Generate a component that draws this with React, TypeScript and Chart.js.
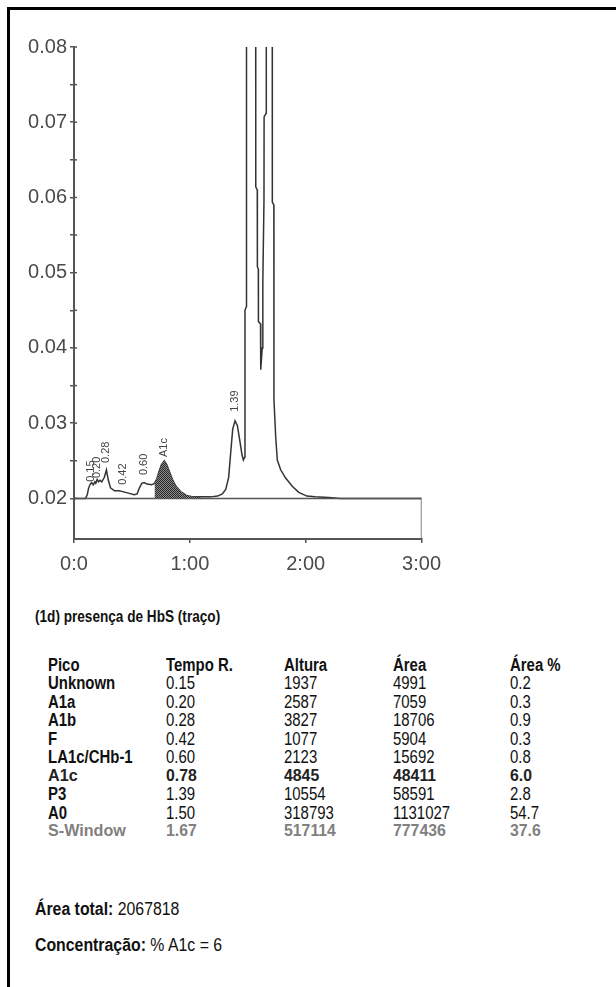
import React, { useEffect, useRef } from "react";
import { Chart, registerables } from "chart.js";

Chart.register(...registerables);

// ---- chromatogram trace (time in minutes, absorbance) ----
const traceX = [
  0.0, 0.1, 0.115, 0.125, 0.137, 0.152, 0.166, 0.18, 0.188, 0.2, 0.212, 0.225, 0.24, 0.262, 0.28,
  0.295, 0.315, 0.35, 0.39, 0.42, 0.47, 0.52, 0.545, 0.565, 0.585, 0.605, 0.63, 0.67, 0.695,
  0.715, 0.735, 0.755, 0.78, 0.8, 0.825, 0.85, 0.88, 0.92, 0.97, 1.03, 1.1, 1.18, 1.24, 1.28,
  1.31, 1.335, 1.355, 1.37, 1.39, 1.41, 1.43, 1.45, 1.462, 1.474, 1.476, 1.488, 1.489, 1.53,
  1.568, 1.569, 1.582, 1.583, 1.591, 1.592, 1.61, 1.612, 1.625, 1.63, 1.64, 1.641, 1.658, 1.66,
  1.69, 1.711, 1.712, 1.725, 1.726, 1.741, 1.755, 1.784, 1.827, 1.884, 1.94, 2.01, 2.08, 2.2,
  2.3, 3.0,
];
const traceY = [
  0.02, 0.02, 0.0205, 0.0213, 0.0218, 0.0221, 0.0218, 0.0222, 0.022, 0.0225, 0.0222, 0.0224, 0.0222,
  0.0228, 0.0238, 0.0225, 0.0214, 0.021, 0.021, 0.0209, 0.0207, 0.0205, 0.0206, 0.0214, 0.022,
  0.0221, 0.0219, 0.0218, 0.022, 0.0226, 0.0236, 0.0245, 0.025, 0.0245, 0.0235, 0.0225, 0.0216,
  0.0209, 0.0204, 0.0202, 0.0202, 0.0202, 0.0203, 0.0206, 0.0212, 0.0228, 0.0265, 0.0292, 0.0303,
  0.0297, 0.0278, 0.0258, 0.0251, 0.0255, 0.045, 0.0455, 0.1, 0.13, 0.1, 0.0614, 0.061, 0.0508,
  0.0505, 0.0435, 0.0432, 0.0371, 0.04, 0.0488, 0.0597, 0.0707, 0.0712, 0.1, 0.13, 0.1, 0.0594,
  0.059, 0.0331, 0.0282, 0.0251, 0.0238, 0.0227, 0.0216, 0.0208, 0.0203, 0.0202, 0.0201, 0.02, 0.02,
];

// shaded A1c peak window
const a1cStart = 0.69;
const a1cEnd = 1.1;
const baselineValue = 0.02;

// axes
const yMin = 0.0146;
const yMax = 0.08;
const yTickValues = [0.02, 0.025, 0.03, 0.035, 0.04, 0.045, 0.05, 0.055, 0.06, 0.065, 0.07, 0.075, 0.08];
const xTickValues = [0, 1, 2, 3];
const xTickLabels = ["0:0", "1:00", "2:00", "3:00"];

// peak annotations
const peakLabels = ["0.15", "0.20", "0.28", "0.42", "0.60", "A1c", "1.39"];
const peakLabelTimes = [0.15, 0.2, 0.28, 0.42, 0.6, 0.78, 1.39];
const peakLabelY = [0.0222, 0.0227, 0.0247, 0.0218, 0.0231, 0.0255, 0.0315];

// results table
const tableHeader = ["Pico", "Tempo R.", "Altura", "Área", "Área %"];
const peakNames = ["Unknown", "A1a", "A1b", "F", "LA1c/CHb-1", "A1c", "P3", "A0", "S-Window"];
const peakRetTimes = ["0.15", "0.20", "0.28", "0.42", "0.60", "0.78", "1.39", "1.50", "1.67"];
const peakHeights = ["1937", "2587", "3827", "1077", "2123", "4845", "10554", "318793", "517114"];
const peakAreas = ["4991", "7059", "18706", "5904", "15692", "48411", "58591", "1131027", "777436"];
const peakAreaPct = ["0.2", "0.3", "0.9", "0.3", "0.8", "6.0", "2.8", "54.7", "37.6"];

const captionText = "(1d) presença de HbS (traço)";
const totalAreaLabel = "Área total:";
const totalAreaValue = "2067818";
const concLabel = "Concentração:";
const concValue = "% A1c = 6";

const SANS = '"Liberation Sans", Arial, sans-serif';
const colLeft = [48, 166, 284, 393, 510];

export default function App() {
  const canvasRef = useRef<HTMLCanvasElement | null>(null);

  useEffect(() => {
    const canvas = canvasRef.current;
    if (!canvas) return;

    const pc = document.createElement("canvas");
    pc.width = 2;
    pc.height = 2;
    const pctx = pc.getContext("2d")!;
    pctx.fillStyle = "#8a8a8a";
    pctx.fillRect(0, 0, 2, 2);
    pctx.fillStyle = "#2a2a2a";
    pctx.fillRect(0, 0, 1, 1);
    pctx.fillRect(1, 1, 1, 1);
    const ctx0 = canvas.getContext("2d")!;
    const pattern = ctx0.createPattern(pc, "repeat");

    const trace = traceX.map((x, i) => ({ x, y: traceY[i] }));
    const a1c = trace.filter((p) => p.x >= a1cStart && p.x <= a1cEnd);
    const box = [
      { x: xTickValues[0], y: baselineValue },
      { x: xTickValues[xTickValues.length - 1], y: baselineValue },
      { x: xTickValues[xTickValues.length - 1], y: yMin },
    ];

    const extras = {
      id: "extras",
      afterDatasetsDraw(chart: any) {
        const { ctx, scales } = chart;
        const xs = scales.x;
        const ys = scales.y;
        ctx.save();
        ctx.strokeStyle = "#555";
        ctx.lineWidth = 1.5;
        yTickValues.forEach((v) => {
          const py = ys.getPixelForValue(v);
          ctx.beginPath();
          ctx.moveTo(xs.left, py);
          ctx.lineTo(xs.left + 3, py);
          ctx.stroke();
        });
        ctx.fillStyle = "#444";
        ctx.font = '11px "Liberation Sans", Arial, sans-serif';
        ctx.textAlign = "left";
        ctx.textBaseline = "middle";
        peakLabels.forEach((t, i) => {
          const px = xs.getPixelForValue(peakLabelTimes[i]);
          const py = ys.getPixelForValue(peakLabelY[i]);
          ctx.save();
          ctx.translate(px, py);
          ctx.rotate(-Math.PI / 2);
          ctx.fillText(t, 0, 0);
          ctx.restore();
        });
        ctx.restore();
      },
    };

    const chart = new Chart(canvas, {
      type: "line",
      data: {
        datasets: [
          {
            data: a1c,
            borderWidth: 0,
            pointRadius: 0,
            fill: { value: baselineValue },
            backgroundColor: pattern as any,
            tension: 0,
          },
          {
            data: box,
            borderColor: "#555",
            borderWidth: 1.5,
            pointRadius: 0,
            fill: false,
            tension: 0,
          },
          {
            data: trace,
            borderColor: "#333",
            borderWidth: 1.5,
            pointRadius: 0,
            fill: false,
            tension: 0,
          },
        ],
      },
      options: {
        animation: false,
        responsive: false,
        events: [],
        layout: { padding: { top: 37, right: 27, left: 0, bottom: 0 } },
        plugins: { legend: { display: false }, tooltip: { enabled: false } },
        scales: {
          x: {
            type: "linear",
            min: 0,
            max: 3,
            afterBuildTicks: (s: any) => {
              s.ticks = xTickValues.map((v) => ({ value: v }));
            },
            afterFit: (s: any) => {
              s.height = 41;
            },
            ticks: {
              autoSkip: false,
              maxRotation: 0,
              padding: 9,
              color: "#4a4a4a",
              font: { size: 20, family: SANS },
              callback: (_v: any, i: number) => xTickLabels[i],
            },
            grid: { drawOnChartArea: false, tickLength: 4, color: "#555", lineWidth: 1.5 },
            border: { display: true, color: "#555", width: 2 },
          },
          y: {
            type: "linear",
            min: yMin,
            max: yMax,
            afterBuildTicks: (s: any) => {
              s.ticks = yTickValues.map((v) => ({ value: v }));
            },
            afterFit: (s: any) => {
              s.width = 64;
            },
            ticks: {
              padding: 3,
              color: "#4a4a4a",
              font: { size: 20, family: SANS },
              callback: (v: any) => {
                const n = Number(v);
                return Math.abs(n * 100 - Math.round(n * 100)) < 1e-6 ? n.toFixed(2) : "";
              },
            },
            grid: { drawOnChartArea: false, tickLength: 4, color: "#555", lineWidth: 1.5 },
            border: { display: true, color: "#555", width: 2 },
          },
        },
      },
      plugins: [extras],
    });

    return () => chart.destroy();
  }, []);

  const rowTop = (i: number) => 655 + i * 18.45;

  const cellStyle = (left: number, top: number, extra: React.CSSProperties = {}): React.CSSProperties => ({
    position: "absolute",
    left,
    top,
    height: 20,
    lineHeight: "20px",
    whiteSpace: "nowrap",
    fontFamily: SANS,
    fontSize: 18,
    color: "#111",
    transform: "scaleX(0.83)",
    transformOrigin: "left center",
    ...extra,
  });

  const rows = peakNames.map((name, i) => {
    const isA1c = name === "A1c";
    const isS = name === "S-Window";
    const top = rowTop(i + 1);
    const vals = [peakRetTimes[i], peakHeights[i], peakAreas[i], peakAreaPct[i]];
    const special = isA1c || isS;
    const specialColor = isS ? "#808080" : "#222";
    const nameStyle: React.CSSProperties = special
      ? { fontSize: 17, fontWeight: isS ? "bold" : 600, color: specialColor, transform: "scaleX(0.95)" }
      : { fontWeight: "bold" };
    const valStyle: React.CSSProperties = special
      ? { fontSize: 17, fontWeight: "bold", color: specialColor, transform: "scaleX(0.93)" }
      : {};
    return (
      <React.Fragment key={name}>
        <div style={cellStyle(colLeft[0], top, nameStyle)}>{name}</div>
        {vals.map((v, j) => (
          <div key={j} style={cellStyle(colLeft[j + 1], top, valStyle)}>
            {v}
          </div>
        ))}
      </React.Fragment>
    );
  });

  return (
    <div style={{ position: "absolute", left: 0, top: 0, width: 616, height: 987, overflow: "hidden", background: "#fff" }}>
      <div
        style={{
          position: "absolute",
          left: 7,
          top: 7,
          width: 640,
          height: 1000,
          borderLeft: "3px solid #000",
          borderTop: "3px solid #000",
        }}
      />
      <canvas ref={canvasRef} width={440} height={570} style={{ position: "absolute", left: 10, top: 10, width: 440, height: 570 }} />
      <div style={cellStyle(35, 607, { fontSize: 17, fontWeight: "bold", transform: "scaleX(0.8)" })}>{captionText}</div>
      {tableHeader.map((h, j) => (
        <div key={h} style={cellStyle(colLeft[j], rowTop(0), { fontWeight: "bold" })}>
          {h}
        </div>
      ))}
      {rows}
      <div style={cellStyle(35, 899, { fontSize: 18, transform: "scaleX(0.88)" })}>
        <b>{totalAreaLabel}</b> {totalAreaValue}
      </div>
      <div style={cellStyle(35, 935, { fontSize: 18, transform: "scaleX(0.88)" })}>
        <b>{concLabel}</b> {concValue}
      </div>
    </div>
  );
}
